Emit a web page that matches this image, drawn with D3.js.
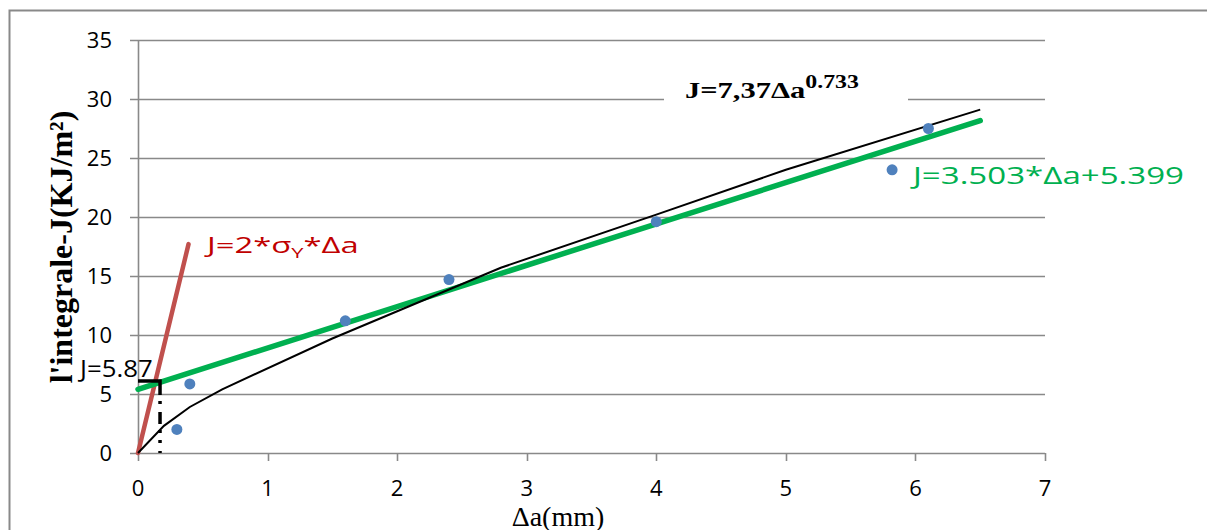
<!DOCTYPE html>
<html>
<head>
<meta charset="utf-8">
<script src="https://cdn.jsdelivr.net/npm/d3@7"></script>
<style>
  body { margin: 0; background: #fff; }
  svg { display: block; }
</style>
</head>
<body>
<div id="chart"></div>
<script>
// measured points (Δa in mm, J in KJ/m²)
var pointsX = [0.3, 0.4, 1.6, 2.4, 4.0, 5.82, 6.1];
var pointsY = [2.0, 5.85, 11.2, 14.7, 19.6, 24.0, 27.5];

// power fit J=7,37Δa^0.733 as drawn
var powerX = [0, 0.2, 0.4, 0.65, 1.5, 2.8, 4.0, 5.0, 6.5];
var powerY = [0, 2.3, 3.9, 5.4, 9.7, 15.7, 20.2, 24.0, 29.1];

// linear fit J=3.503*Δa+5.399
var linX = [0, 6.5];
var linY = [5.4, 28.17];

// blunting line J=2*σY*Δa
var bluntX = [0, 0.39];
var bluntY = [0, 17.7];

// J=5.87 marker
var markX = 0.17, markY = 6.1;

var xTicks = [0, 1, 2, 3, 4, 5, 6, 7];
var yTicks = [0, 5, 10, 15, 20, 25, 30, 35];

var W = 1207, H = 530;
var margin = { left: 138, right: 162, top: 40, bottom: 77 };
var width = W - margin.left - margin.right,
    height = H - margin.top - margin.bottom;
var sans = "'Open Sans', Lato, sans-serif",
    serif = "'Liberation Serif', 'DejaVu Serif', serif";
var gridColor = "#898989";

var svg = d3.select("#chart").append("svg")
    .attr("width", W).attr("height", H);

// stretch a text horizontally so it covers the width seen in the picture
function fit(sel, x0, w){
    var bw = sel.node().getBBox().width;
    sel.attr("transform", "translate(" + x0 + ",0) scale(" + (w / bw) + ",1) translate(" + (-x0) + ",0)");
}

// outer chart frame (runs off the right and bottom of the picture)
svg.append("rect")
    .attr("x", 9.5).attr("y", 10.5)
    .attr("width", W + 20).attr("height", H + 20)
    .attr("fill", "none").attr("stroke", gridColor).attr("stroke-width", 2);

var g = svg.append("g")
    .attr("transform", "translate(" + margin.left + "," + margin.top + ")");

var x = d3.scaleLinear().domain([0, 7]).range([0, width]);
var y = d3.scaleLinear().domain([0, 35]).range([height, 0]);

// horizontal grid + y ticks
g.append("g").selectAll("line")
    .data(yTicks)
    .enter().append("line")
        .attr("x1", -8).attr("x2", width)
        .attr("y1", function(d){ return Math.round(y(d)) + 0.5; })
        .attr("y2", function(d){ return Math.round(y(d)) + 0.5; })
        .attr("stroke", gridColor).attr("stroke-width", 1.6);

// y axis line
g.append("line")
    .attr("x1", 0.5).attr("x2", 0.5)
    .attr("y1", 0).attr("y2", height)
    .attr("stroke", gridColor).attr("stroke-width", 1.6);

// x ticks
g.append("g").selectAll("line")
    .data(xTicks)
    .enter().append("line")
        .attr("x1", function(d){ return Math.round(x(d)) + 0.5; })
        .attr("x2", function(d){ return Math.round(x(d)) + 0.5; })
        .attr("y1", height).attr("y2", height + 8)
        .attr("stroke", gridColor).attr("stroke-width", 1.6);

g.append("g").selectAll("text")
    .data(yTicks)
    .enter().append("text")
        .attr("x", -26)
        .attr("y", function(d){ return y(d); })
        .attr("dy", "0.35em")
        .attr("text-anchor", "end")
        .attr("font-family", sans).attr("font-size", 22)
        .text(function(d){ return d; });

g.append("g").selectAll("text")
    .data(xTicks)
    .enter().append("text")
        .attr("x", function(d){ return x(d); })
        .attr("y", height + 35)
        .attr("dy", "0.35em")
        .attr("text-anchor", "middle")
        .attr("font-family", sans).attr("font-size", 22)
        .text(function(d){ return d; });

// axis titles
svg.append("text")
    .attr("transform", "translate(72,247) rotate(-90)")
    .attr("text-anchor", "middle")
    .attr("font-family", serif).attr("font-weight", "bold").attr("font-size", 32)
    .text("l'integrale-J(KJ/m²)");

svg.append("text")
    .attr("x", 558).attr("y", 526)
    .attr("text-anchor", "middle")
    .attr("font-family", serif).attr("font-size", 28)
    .text("Δa(mm)");

var line = d3.line()
    .x(function(d){ return x(d[0]); })
    .y(function(d){ return y(d[1]); });

// blunting line
g.append("path")
    .datum(d3.zip(bluntX, bluntY))
    .attr("d", line)
    .attr("fill", "none").attr("stroke", "#c0504d")
    .attr("stroke-width", 4.5).attr("stroke-linecap", "round");

// linear fit
g.append("path")
    .datum(d3.zip(linX, linY))
    .attr("d", line)
    .attr("fill", "none").attr("stroke", "#00b050")
    .attr("stroke-width", 5.5).attr("stroke-linecap", "round");

// power fit
g.append("path")
    .datum(d3.zip(powerX, powerY))
    .attr("d", line)
    .attr("fill", "none").attr("stroke", "#000")
    .attr("stroke-width", 2);

// J=5.87 marker
g.append("path")
    .attr("d", "M" + x(0) + "," + y(markY) + "H" + x(markX) + "V" + (y(markY) + 14))
    .attr("fill", "none").attr("stroke", "#000").attr("stroke-width", 3.5);
g.append("line")
    .attr("x1", x(markX)).attr("x2", x(markX))
    .attr("y1", y(markY) + 20).attr("y2", y(0))
    .attr("stroke", "#000").attr("stroke-width", 3.5)
    .attr("stroke-dasharray", "3,8,12,6,3,7");

// data points
g.append("g").selectAll("circle")
    .data(d3.zip(pointsX, pointsY))
    .enter().append("circle")
        .attr("cx", function(d){ return x(d[0]); })
        .attr("cy", function(d){ return y(d[1]); })
        .attr("r", 5.5)
        .attr("fill", "#4f81bd");

// annotations (page coordinates)
var mark = svg.append("text")
    .attr("x", 80).attr("y", 377)
    .attr("font-family", sans).attr("font-size", 23)
    .text("J=5.87");
fit(mark, 80, 75);

var red = svg.append("text")
    .attr("x", 207).attr("y", 253)
    .attr("font-family", sans).attr("font-size", 21)
    .attr("fill", "#c00000");
red.append("tspan").text("J=2*σ");
red.append("tspan").attr("font-size", 14).attr("dy", 5).text("Y");
red.append("tspan").attr("dy", -5).text("*Δa");
fit(red, 207, 155);

var green = svg.append("text")
    .attr("x", 913).attr("y", 184)
    .attr("font-family", sans).attr("font-size", 23)
    .attr("fill", "#00b050")
    .text("J=3.503*Δa+5.399");
fit(green, 913, 274);

// power law label on white box
svg.append("rect")
    .attr("x", 664).attr("y", 72).attr("width", 244).attr("height", 34)
    .attr("fill", "#fff");
var blk = svg.append("text")
    .attr("x", 685).attr("y", 98)
    .attr("font-family", serif).attr("font-weight", "bold").attr("font-size", 23);
blk.append("tspan").text("J=7,37Δa");
blk.append("tspan").attr("font-size", 18).attr("dy", -10).text("0.733");
fit(blk, 685, 174);
</script>
</body>
</html>
